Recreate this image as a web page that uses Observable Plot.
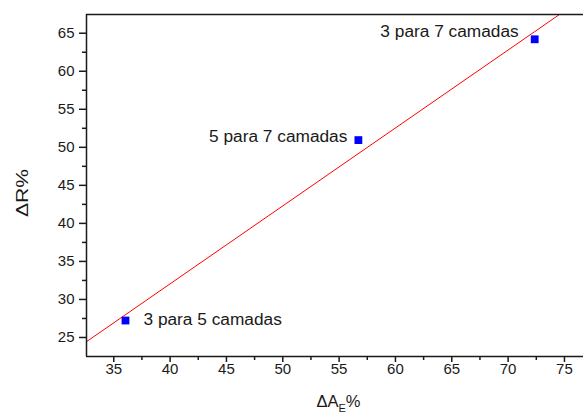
<!DOCTYPE html>
<html><head><meta charset="utf-8">
<script src="https://cdn.jsdelivr.net/npm/d3@7"></script>
<script src="https://cdn.jsdelivr.net/npm/@observablehq/plot@0.6"></script>
<style>body{margin:0;background:#fff;} #chart svg{display:block;}</style>
</head><body><div id="chart"></div>
<script>
const labels = ["3 para 5 camadas", "5 para 7 camadas", "3 para 7 camadas"];
const deltaA = [36.04, 56.71, 72.36];
const deltaR = [27.23, 50.95, 64.2];
const xTicks = [35, 40, 45, 50, 55, 60, 65, 70, 75];
const xMinor = [37.5, 42.5, 47.5, 52.5, 57.5, 62.5, 67.5, 72.5];
const yTicks = [25, 30, 35, 40, 45, 50, 55, 60, 65];
const yMinor = [27.5, 32.5, 37.5, 42.5, 47.5, 52.5, 57.5, 62.5];
const xDomain = [32.58, 76.69];
const yDomain = [22.5, 67.46];

const data = labels.map((l, i) => ({label: l, a: deltaA[i], r: deltaR[i]}));
// least-squares linear fit
const mx = d3.mean(deltaA), my = d3.mean(deltaR);
const slope = d3.sum(deltaA, (x, i) => (x - mx) * (deltaR[i] - my)) / d3.sum(deltaA, x => (x - mx) ** 2);
const intercept = my - slope * mx;
const fit = xDomain.map(x => ({a: x, r: intercept + slope * x}));

const font = "'Liberation Sans', Arial, sans-serif";
const ink = "#1a1a1a";

const plot = Plot.plot({
  width: 583, height: 413,
  marginLeft: 86, marginTop: 14, marginRight: 0, marginBottom: 57,
  style: {fontFamily: font, fontSize: "15px", color: ink, background: "#fff", overflow: "visible"},
  x: {domain: xDomain},
  y: {domain: yDomain},
  marks: [
    Plot.line(fit, {x: "a", y: "r", stroke: "#ff0000", strokeWidth: 1, clip: true}),
    Plot.axisX(xTicks, {tickSize: 6, tickPadding: 1, fontSize: 15, label: null, strokeWidth: 1.5}),
    Plot.axisX(xMinor, {tickSize: 4, text: null, label: null, strokeWidth: 1.5}),
    Plot.axisY(yTicks, {tickSize: 7, tickPadding: 5, fontSize: 15, label: null, strokeWidth: 1.5}),
    Plot.axisY(yMinor, {tickSize: 4, text: null, label: null, strokeWidth: 1.5}),
    Plot.ruleX([xDomain[0]], {stroke: ink, strokeWidth: 1.5}),
    Plot.ruleY([yDomain[0], yDomain[1]], {stroke: ink, strokeWidth: 1.5}),
    Plot.dot(data, {x: "a", y: "r", symbol: "square", r: 4.4, fill: "#0000ff", stroke: null}),
    Plot.text(data.slice(0, 1), {x: "a", y: "r", text: "label", textAnchor: "start", dx: 18, dy: -1, fontSize: 17.3, fill: ink}),
    Plot.text(data.slice(1, 2), {x: "a", y: "r", text: "label", textAnchor: "end", dx: -11, dy: -4, fontSize: 17.3, fill: ink}),
    Plot.text(data.slice(2, 3), {x: "a", y: "r", text: "label", textAnchor: "end", dx: -16, dy: -8, fontSize: 17.3, fill: ink})
  ]
});
document.getElementById("chart").appendChild(plot);

const svg = d3.select(plot);
// y axis title
svg.append("text")
  .attr("transform", "translate(28,193) rotate(-90)")
  .attr("text-anchor", "middle")
  .attr("font-family", font).attr("font-size", 17).attr("fill", ink)
  .attr("textLength", 48).attr("lengthAdjust", "spacingAndGlyphs")
  .text("ΔR%");
// x axis title with subscript
const xt = svg.append("text")
  .attr("x", 338.5).attr("y", 407)
  .attr("text-anchor", "middle")
  .attr("font-family", font).attr("font-size", 16.5).attr("fill", ink);
xt.append("tspan").text("ΔA");
xt.append("tspan").attr("dy", 5).attr("font-size", 11).text("E");
xt.append("tspan").attr("dy", -5).text("%");
</script>
</body></html>
